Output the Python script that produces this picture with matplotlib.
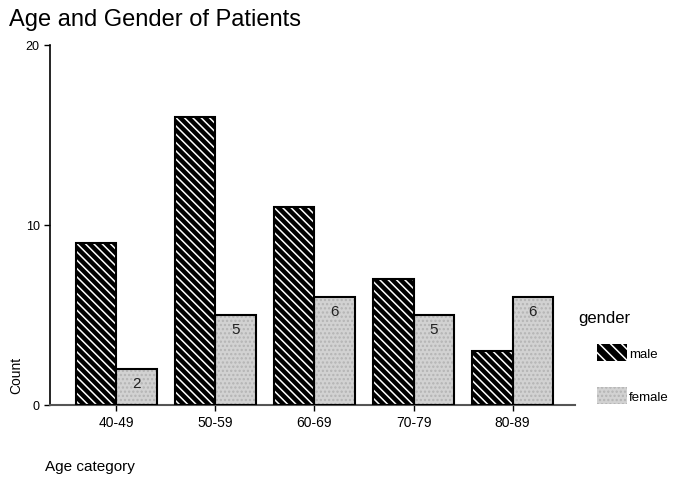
import matplotlib.pyplot as plt
import numpy as np
from matplotlib.patches import Patch

plt.rcParams["font.family"] = ["Liberation Sans", "DejaVu Sans"]
plt.rcParams["hatch.linewidth"] = 1.1

age_groups = ["40-49", "50-59", "60-69", "70-79", "80-89"]
male_counts = [9, 16, 11, 7, 3]
female_counts = [2, 5, 6, 5, 6]

MALE_FACE = "#000000"
FEMALE_FACE = "#d2d2d2"
MALE_HATCH = "\\\\\\\\"  # four backslashes -> dense diagonal lines

fig = plt.figure(figsize=(6.81, 4.81), dpi=100)
ax = fig.add_axes([50 / 681, 75 / 481, 525 / 681, 360 / 481])

x = np.arange(len(age_groups))
w = 0.41

# male bars: black fill with white diagonal hatch, then a black outline on top
ax.bar(x - w / 2, male_counts, w, color=MALE_FACE, edgecolor="white",
       hatch=MALE_HATCH, linewidth=0, zorder=2)
ax.bar(x - w / 2, male_counts, w, fill=False, edgecolor="black",
       linewidth=1.5, zorder=3)

# female bars: light stippled grey
ax.bar(x + w / 2, female_counts, w, color=FEMALE_FACE, edgecolor="#b4b4b4",
       hatch="....", linewidth=0, zorder=2)
ax.bar(x + w / 2, female_counts, w, fill=False, edgecolor="black",
       linewidth=1.5, zorder=3)

for xi, v in zip(x, female_counts):
    ax.text(xi + w / 2, v - 0.4, str(v), ha="center", va="top",
            fontsize=11, color="#222222", zorder=4)

ax.set_xlim(-0.67, 4.63)
ax.set_ylim(0, 20)
ax.set_yticks([0, 10, 20])
ax.set_xticks(x)
ax.set_xticklabels(age_groups)
ax.tick_params(axis="y", labelsize=9, length=4, width=1, direction="out")
ax.tick_params(axis="x", labelsize=10, length=4, width=1, direction="out")

for side in ("top", "right"):
    ax.spines[side].set_visible(False)
ax.spines["left"].set_linewidth(1.2)
ax.spines["bottom"].set_linewidth(1.5)
ax.spines["bottom"].set_color("#555555")

fig.text(9 / 681, 1 - 20 / 481, "Age and Gender of Patients",
         fontsize=17, ha="left", va="center")
fig.text(45 / 681, 1 - 467 / 481, "Age category", fontsize=11,
         ha="left", va="center")
fig.text(16 / 681, 1 - 375 / 481, "Count", fontsize=10, rotation=90,
         ha="center", va="center")

# legend title sits further left than the swatches
fig.text(578 / 681, 1 - 318 / 481, "gender", fontsize=12,
         ha="left", va="center")
handles = [
    Patch(facecolor=MALE_FACE, edgecolor="white", hatch="\\\\\\", linewidth=0),
    Patch(facecolor=FEMALE_FACE, edgecolor="#b4b4b4", hatch="....",
          linewidth=0),
]
fig.legend(handles, ["male", "female"],
           loc="upper left", bbox_to_anchor=(597 / 681, 1 - 345 / 481),
           frameon=False, fontsize=9.5,
           handlelength=2.3, handleheight=1.6, labelspacing=2.0,
           handletextpad=0.1, borderaxespad=0, borderpad=0)

fig.savefig("out.png", dpi=100, facecolor="white")
